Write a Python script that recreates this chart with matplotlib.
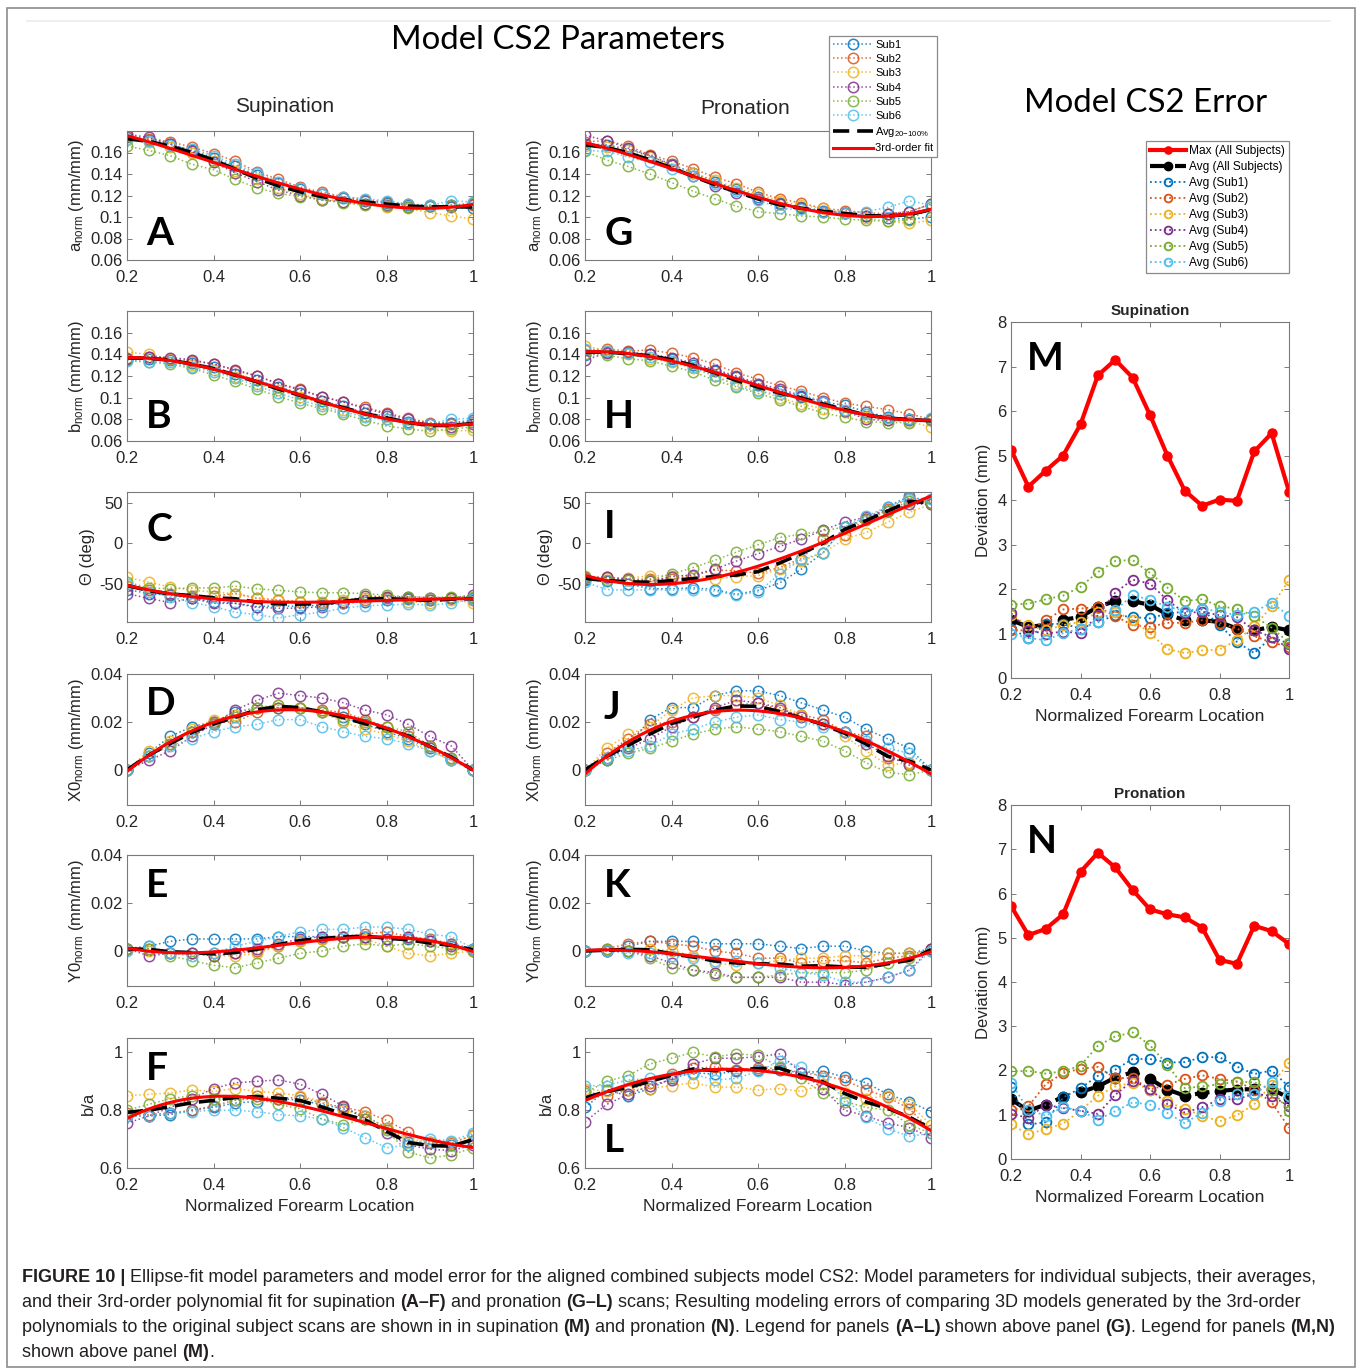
import numpy as np
import matplotlib
matplotlib.use("Agg")
import matplotlib.pyplot as plt
from matplotlib.ticker import FuncFormatter
from matplotlib.lines import Line2D
from matplotlib.patches import Rectangle
from matplotlib import font_manager

W, H = 1360, 1370
plt.rcParams["font.family"] = ["Liberation Sans", "DejaVu Sans"]
plt.rcParams["mathtext.fontset"] = "custom"
plt.rcParams["mathtext.rm"] = "Liberation Sans"
plt.rcParams["mathtext.it"] = "Liberation Sans:italic"
plt.rcParams["mathtext.bf"] = "Liberation Sans:bold"

# normalized forearm location
loc = [0.2, 0.25, 0.3, 0.35, 0.4, 0.45, 0.5, 0.55, 0.6, 0.65, 0.7, 0.75, 0.8, 0.85, 0.9, 0.95, 1.0]
sub_names = ["Sub1", "Sub2", "Sub3", "Sub4", "Sub5", "Sub6"]
sub_colors = ["#0072BD", "#D95319", "#EDB120", "#7E2F8E", "#77AC30", "#4DBEEE"]

# ---- supination parameters (Sub1..Sub6) ----
sup_a = [
    [0.174, 0.172, 0.168, 0.162, 0.155, 0.147, 0.139, 0.132, 0.126, 0.121, 0.118, 0.115, 0.113, 0.111, 0.110, 0.109, 0.108],
    [0.175, 0.173, 0.170, 0.165, 0.159, 0.152, 0.142, 0.135, 0.128, 0.123, 0.119, 0.116, 0.114, 0.112, 0.111, 0.110, 0.111],
    [0.172, 0.170, 0.165, 0.160, 0.152, 0.143, 0.135, 0.127, 0.121, 0.117, 0.114, 0.112, 0.109, 0.108, 0.104, 0.101, 0.098],
    [0.177, 0.174, 0.168, 0.161, 0.151, 0.141, 0.133, 0.125, 0.120, 0.116, 0.114, 0.112, 0.111, 0.109, 0.110, 0.111, 0.112],
    [0.166, 0.162, 0.157, 0.149, 0.144, 0.135, 0.127, 0.122, 0.119, 0.116, 0.113, 0.111, 0.110, 0.109, 0.110, 0.111, 0.113],
    [0.173, 0.171, 0.167, 0.163, 0.157, 0.149, 0.141, 0.133, 0.127, 0.121, 0.119, 0.117, 0.115, 0.112, 0.111, 0.115, 0.114],
]
sup_b = [
    [0.136, 0.136, 0.135, 0.132, 0.128, 0.122, 0.116, 0.110, 0.104, 0.097, 0.092, 0.086, 0.083, 0.078, 0.076, 0.077, 0.079],
    [0.137, 0.138, 0.136, 0.134, 0.131, 0.125, 0.120, 0.113, 0.108, 0.101, 0.096, 0.091, 0.086, 0.081, 0.077, 0.076, 0.078],
    [0.142, 0.140, 0.136, 0.130, 0.126, 0.119, 0.113, 0.107, 0.101, 0.094, 0.089, 0.083, 0.080, 0.076, 0.072, 0.069, 0.070],
    [0.136, 0.138, 0.137, 0.135, 0.131, 0.126, 0.120, 0.113, 0.107, 0.101, 0.096, 0.090, 0.085, 0.080, 0.076, 0.073, 0.076],
    [0.135, 0.133, 0.131, 0.127, 0.121, 0.115, 0.108, 0.101, 0.095, 0.090, 0.085, 0.079, 0.074, 0.071, 0.069, 0.071, 0.073],
    [0.134, 0.133, 0.133, 0.128, 0.124, 0.118, 0.111, 0.104, 0.098, 0.092, 0.087, 0.082, 0.080, 0.077, 0.076, 0.080, 0.081],
]
sup_theta = [
    [-57, -62, -64, -68, -72, -74, -78, -77, -78, -76, -74, -72, -70, -69, -70, -68, -67],
    [-53, -57, -62, -65, -65, -62, -68, -70, -72, -73, -73, -70, -68, -68, -70, -68, -70],
    [-42, -48, -54, -58, -60, -62, -67, -70, -72, -72, -70, -67, -66, -72, -73, -70, -73],
    [-62, -68, -73, -68, -74, -74, -79, -80, -80, -78, -72, -65, -66, -66, -67, -67, -64],
    [-48, -55, -56, -55, -55, -53, -56, -58, -60, -61, -61, -62, -64, -66, -67, -66, -66],
    [-50, -60, -66, -73, -78, -85, -88, -92, -88, -85, -80, -77, -76, -75, -76, -74, -69],
]
sup_x0 = [
    [0, 0.007, 0.014, 0.018, 0.020, 0.024, 0.026, 0.026, 0.026, 0.024, 0.022, 0.019, 0.016, 0.013, 0.009, 0.004, 0],
    [0, 0.006, 0.011, 0.016, 0.020, 0.020, 0.024, 0.026, 0.026, 0.025, 0.024, 0.021, 0.018, 0.014, 0.010, 0.005, 0],
    [0, 0.008, 0.012, 0.017, 0.021, 0.023, 0.026, 0.027, 0.026, 0.024, 0.020, 0.017, 0.015, 0.012, 0.008, 0.004, 0],
    [0, 0.004, 0.008, 0.014, 0.019, 0.025, 0.029, 0.032, 0.031, 0.030, 0.028, 0.025, 0.023, 0.019, 0.014, 0.010, 0],
    [0, 0.006, 0.011, 0.016, 0.019, 0.022, 0.026, 0.027, 0.026, 0.024, 0.021, 0.020, 0.018, 0.016, 0.010, 0.005, 0],
    [0, 0.006, 0.010, 0.013, 0.016, 0.018, 0.019, 0.021, 0.021, 0.018, 0.016, 0.014, 0.013, 0.011, 0.008, 0.004, 0],
]
sup_y0 = [
    [0.001, 0.002, 0.004, 0.005, 0.005, 0.005, 0.005, 0.006, 0.006, 0.006, 0.006, 0.006, 0.005, 0.005, 0.004, 0.003, 0.001],
    [0.001, 0.001, -0.001, -0.001, -0.001, -0.001, 0.000, 0.002, 0.004, 0.005, 0.006, 0.007, 0.008, 0.006, 0.005, 0.003, 0.000],
    [0.001, 0.000, -0.001, -0.001, -0.002, -0.002, -0.001, 0.002, 0.004, 0.005, 0.006, 0.005, 0.002, -0.001, -0.002, -0.001, 0.000],
    [0.001, -0.002, -0.001, -0.001, -0.002, -0.001, 0.001, 0.003, 0.005, 0.006, 0.006, 0.006, 0.005, 0.006, 0.004, 0.002, 0.001],
    [0.001, 0.001, -0.002, -0.004, -0.006, -0.007, -0.005, -0.003, -0.001, 0.000, 0.002, 0.003, 0.002, 0.003, 0.002, 0.001, 0.000],
    [0.000, 0.002, -0.001, -0.002, -0.001, 0.002, 0.004, 0.006, 0.008, 0.009, 0.009, 0.010, 0.010, 0.009, 0.007, 0.006, 0.001],
]
sup_ba = [
    [0.780, 0.780, 0.785, 0.800, 0.810, 0.825, 0.830, 0.840, 0.835, 0.820, 0.805, 0.780, 0.740, 0.690, 0.685, 0.680, 0.695],
    [0.790, 0.785, 0.790, 0.800, 0.815, 0.835, 0.850, 0.840, 0.845, 0.825, 0.810, 0.795, 0.765, 0.725, 0.690, 0.685, 0.715],
    [0.850, 0.855, 0.860, 0.870, 0.865, 0.875, 0.865, 0.860, 0.850, 0.830, 0.800, 0.780, 0.740, 0.700, 0.690, 0.690, 0.710],
    [0.755, 0.780, 0.810, 0.840, 0.875, 0.895, 0.900, 0.905, 0.890, 0.855, 0.815, 0.770, 0.720, 0.680, 0.665, 0.660, 0.680],
    [0.800, 0.820, 0.840, 0.850, 0.840, 0.835, 0.840, 0.820, 0.805, 0.770, 0.750, 0.770, 0.730, 0.655, 0.635, 0.645, 0.670],
    [0.780, 0.780, 0.790, 0.795, 0.800, 0.800, 0.795, 0.785, 0.780, 0.770, 0.740, 0.705, 0.670, 0.680, 0.700, 0.695, 0.720],
]

# ---- pronation parameters (Sub1..Sub6) ----
pro_a = [
    [0.168, 0.167, 0.163, 0.157, 0.149, 0.141, 0.133, 0.126, 0.119, 0.113, 0.109, 0.106, 0.104, 0.101, 0.099, 0.098, 0.100],
    [0.170, 0.171, 0.166, 0.158, 0.152, 0.145, 0.137, 0.131, 0.123, 0.117, 0.113, 0.108, 0.106, 0.104, 0.103, 0.105, 0.112],
    [0.166, 0.165, 0.162, 0.156, 0.148, 0.141, 0.134, 0.127, 0.121, 0.115, 0.111, 0.108, 0.104, 0.099, 0.096, 0.094, 0.097],
    [0.176, 0.171, 0.164, 0.157, 0.148, 0.138, 0.129, 0.122, 0.117, 0.112, 0.108, 0.105, 0.104, 0.101, 0.103, 0.105, 0.112],
    [0.161, 0.153, 0.147, 0.140, 0.132, 0.124, 0.117, 0.110, 0.105, 0.103, 0.101, 0.100, 0.098, 0.097, 0.096, 0.097, 0.109],
    [0.162, 0.161, 0.156, 0.151, 0.145, 0.138, 0.131, 0.124, 0.116, 0.108, 0.107, 0.105, 0.104, 0.105, 0.109, 0.115, 0.111],
]
pro_b = [
    [0.139, 0.142, 0.141, 0.140, 0.136, 0.130, 0.125, 0.119, 0.112, 0.106, 0.101, 0.096, 0.093, 0.087, 0.082, 0.080, 0.080],
    [0.144, 0.145, 0.143, 0.144, 0.141, 0.137, 0.131, 0.123, 0.117, 0.111, 0.106, 0.100, 0.095, 0.092, 0.089, 0.085, 0.080],
    [0.148, 0.143, 0.140, 0.136, 0.133, 0.127, 0.120, 0.113, 0.107, 0.100, 0.094, 0.090, 0.087, 0.082, 0.079, 0.078, 0.073],
    [0.135, 0.141, 0.142, 0.140, 0.137, 0.132, 0.126, 0.120, 0.113, 0.108, 0.102, 0.097, 0.088, 0.080, 0.079, 0.079, 0.079],
    [0.140, 0.139, 0.136, 0.134, 0.129, 0.124, 0.116, 0.110, 0.104, 0.098, 0.092, 0.086, 0.082, 0.078, 0.077, 0.077, 0.079],
    [0.145, 0.143, 0.141, 0.138, 0.134, 0.128, 0.120, 0.111, 0.106, 0.103, 0.103, 0.096, 0.089, 0.085, 0.081, 0.080, 0.081],
]
pro_theta = [
    [-45, -47, -50, -56, -56, -55, -57, -63, -58, -49, -32, -12, 20, 30, 45, 58, 50],
    [-43, -42, -45, -44, -44, -40, -33, -34, -37, -30, -19, 5, 10, 30, 42, 56, 50],
    [-40, -43, -43, -40, -40, -40, -44, -41, -40, -32, -22, -12, 5, 13, 26, 38, 48],
    [-42, -42, -44, -47, -41, -39, -32, -22, -13, -4, 5, 16, 26, 32, 40, 48, 48],
    [-42, -45, -45, -45, -38, -30, -21, -11, -2, 7, 11, 15, 20, 28, 40, 52, 50],
    [-48, -57, -58, -57, -58, -57, -59, -64, -60, -38, -20, -12, 20, 33, 45, 55, 55],
]
pro_x0 = [
    [0, 0.004, 0.010, 0.021, 0.026, 0.026, 0.031, 0.033, 0.033, 0.031, 0.028, 0.025, 0.022, 0.017, 0.013, 0.009, 0],
    [0, 0.007, 0.013, 0.019, 0.020, 0.022, 0.025, 0.027, 0.028, 0.025, 0.023, 0.021, 0.016, 0.014, 0.005, 0.003, 0],
    [0, 0.009, 0.015, 0.018, 0.025, 0.030, 0.031, 0.031, 0.030, 0.027, 0.023, 0.019, 0.014, 0.008, 0.002, 0.003, 0],
    [0, 0.005, 0.009, 0.013, 0.018, 0.022, 0.026, 0.029, 0.028, 0.026, 0.022, 0.019, 0.016, 0.011, 0.006, 0.002, 0],
    [0, 0.004, 0.007, 0.009, 0.012, 0.015, 0.017, 0.018, 0.017, 0.016, 0.014, 0.012, 0.008, 0.003, -0.001, -0.002, 0],
    [0, 0.005, 0.008, 0.010, 0.015, 0.017, 0.020, 0.022, 0.023, 0.021, 0.020, 0.018, 0.016, 0.012, 0.009, 0.007, 0],
]
pro_y0 = [
    [0.000, 0.000, 0.002, 0.004, 0.004, 0.004, 0.003, 0.003, 0.003, 0.002, 0.001, 0.002, 0.002, 0.000, -0.001, -0.001, 0.001],
    [0.000, 0.001, 0.003, 0.004, 0.003, 0.002, 0.000, -0.001, -0.003, -0.003, -0.005, -0.004, -0.004, -0.005, -0.003, -0.002, 0.001],
    [0.000, 0.000, 0.000, 0.001, 0.000, -0.002, -0.005, -0.006, -0.005, -0.004, -0.003, -0.003, -0.002, -0.002, -0.001, -0.001, 0.000],
    [0.000, 0.000, 0.000, -0.002, -0.005, -0.008, -0.009, -0.011, -0.011, -0.011, -0.013, -0.013, -0.014, -0.013, -0.011, -0.008, 0.001],
    [0.000, 0.001, 0.000, -0.003, -0.007, -0.008, -0.010, -0.011, -0.011, -0.010, -0.009, -0.009, -0.009, -0.008, -0.005, -0.003, 0.000],
    [0.000, 0.000, -0.001, -0.001, -0.002, -0.003, -0.004, -0.004, -0.005, -0.007, -0.009, -0.010, -0.013, -0.013, -0.011, -0.008, 0.000],
]
pro_ba = [
    [0.810, 0.870, 0.850, 0.875, 0.910, 0.930, 0.925, 0.935, 0.940, 0.940, 0.930, 0.935, 0.915, 0.895, 0.855, 0.830, 0.795],
    [0.865, 0.850, 0.870, 0.895, 0.925, 0.945, 0.950, 0.940, 0.945, 0.945, 0.930, 0.920, 0.905, 0.870, 0.845, 0.805, 0.730],
    [0.875, 0.865, 0.870, 0.875, 0.885, 0.895, 0.880, 0.880, 0.870, 0.875, 0.865, 0.890, 0.860, 0.840, 0.850, 0.820, 0.750],
    [0.760, 0.820, 0.855, 0.885, 0.905, 0.960, 0.980, 0.980, 0.985, 0.995, 0.930, 0.875, 0.800, 0.780, 0.755, 0.740, 0.705],
    [0.860, 0.900, 0.920, 0.960, 0.980, 1.000, 0.985, 0.995, 0.990, 0.950, 0.910, 0.860, 0.830, 0.810, 0.800, 0.750, 0.720],
    [0.885, 0.885, 0.905, 0.910, 0.920, 0.925, 0.905, 0.910, 0.935, 0.970, 0.950, 0.910, 0.840, 0.775, 0.735, 0.710, 0.720],
]

# ---- model error (mm) ----
sup_err_max = [5.13, 4.30, 4.66, 5.00, 5.70, 6.80, 7.15, 6.75, 5.91, 5.00, 4.21, 3.87, 4.01, 3.98, 5.09, 5.50, 4.19]
sup_err_avg = [1.30, 1.15, 1.19, 1.31, 1.37, 1.60, 1.73, 1.73, 1.64, 1.43, 1.30, 1.30, 1.26, 1.11, 1.07, 1.15, 1.07]
sup_err_sub = [
    [1.11, 0.90, 1.21, 1.22, 1.11, 1.26, 1.41, 1.37, 1.34, 1.45, 1.49, 1.54, 1.19, 0.81, 0.56, 0.92, 0.77],
    [1.07, 1.07, 1.30, 1.54, 1.56, 1.60, 1.39, 1.19, 1.15, 1.24, 1.24, 1.30, 1.24, 1.11, 0.94, 0.80, 0.70],
    [1.41, 1.19, 1.07, 1.19, 1.26, 1.49, 1.49, 1.30, 1.01, 0.65, 0.56, 0.62, 0.64, 0.85, 1.16, 1.61, 2.20],
    [1.46, 1.06, 1.00, 1.04, 1.01, 1.41, 1.92, 2.21, 2.12, 1.75, 1.46, 1.49, 1.41, 1.37, 1.07, 0.92, 0.66],
    [1.65, 1.67, 1.77, 1.85, 2.05, 2.38, 2.63, 2.65, 2.36, 2.03, 1.73, 1.77, 1.61, 1.56, 1.39, 1.13, 0.79],
    [1.00, 0.90, 0.85, 1.01, 1.11, 1.26, 1.52, 1.86, 1.76, 1.60, 1.51, 1.56, 1.49, 1.41, 1.49, 1.69, 1.40],
]
pro_err_max = [5.72, 5.06, 5.20, 5.53, 6.49, 6.92, 6.59, 6.08, 5.64, 5.53, 5.46, 5.23, 4.50, 4.41, 5.27, 5.15, 4.86]
pro_err_avg = [1.35, 1.09, 1.23, 1.40, 1.51, 1.64, 1.84, 1.96, 1.81, 1.57, 1.43, 1.49, 1.54, 1.57, 1.58, 1.58, 1.38]
pro_err_sub = [
    [1.63, 0.78, 0.83, 1.39, 1.60, 1.88, 2.02, 2.26, 2.26, 2.18, 2.19, 2.30, 2.30, 2.09, 1.92, 2.00, 1.63],
    [1.11, 1.19, 1.69, 1.94, 2.04, 2.08, 1.83, 1.83, 1.57, 1.68, 1.81, 1.89, 1.81, 1.75, 1.57, 1.28, 0.71],
    [0.78, 0.56, 0.68, 0.80, 1.09, 1.43, 1.64, 1.72, 1.57, 1.30, 1.13, 0.98, 0.85, 0.99, 1.24, 1.68, 2.18],
    [1.02, 0.93, 1.23, 1.15, 1.09, 1.02, 1.45, 1.77, 1.58, 1.24, 1.05, 1.17, 1.35, 1.35, 1.47, 1.43, 1.19],
    [1.98, 1.99, 1.93, 1.98, 2.11, 2.56, 2.77, 2.86, 2.57, 2.13, 1.60, 1.64, 1.69, 1.75, 1.73, 1.57, 1.08],
    [1.72, 1.11, 0.98, 1.17, 1.09, 0.89, 1.08, 1.28, 1.23, 1.04, 0.81, 1.05, 1.32, 1.47, 1.47, 1.73, 1.43],
]

xticks = [0.2, 0.4, 0.6, 0.8, 1.0]
fmt = FuncFormatter(lambda v, p: f"{v:g}")
AX_COL = "#7a7a7a"
TXT_COL = "#262626"
LETTER_FONT = ["Lato", "DejaVu Sans"]


def px_rect(x0, y0, x1, y1):
    return [x0 / W, 1 - y1 / H, (x1 - x0) / W, (y1 - y0) / H]


def style_axes(ax):
    for s in ax.spines.values():
        s.set_color(AX_COL)
        s.set_linewidth(0.8)
    ax.tick_params(direction="in", top=True, right=True, length=3.5, width=0.7,
                   color=AX_COL, labelcolor=TXT_COL, labelsize=12)
    ax.tick_params(axis="x", pad=7.5)
    ax.tick_params(axis="y", pad=3)
    ax.set_xlim(0.2, 1.0)
    ax.set_xticks(xticks)
    ax.xaxis.set_major_formatter(fmt)
    ax.yaxis.set_major_formatter(fmt)


fig = plt.figure(figsize=(W / 100, H / 100), dpi=100)

rows = [(131, 260), (311, 441), (492, 622), (674, 805), (855, 986), (1038, 1168)]
ylabels = [r"a$_{\mathrm{norm}}$ (mm/mm)", r"b$_{\mathrm{norm}}$ (mm/mm)", "\u0398 (deg)",
           r"X0$_{\mathrm{norm}}$ (mm/mm)", r"Y0$_{\mathrm{norm}}$ (mm/mm)", "b/a"]
ylims = [(0.06, 0.18), (0.06, 0.18), (-97, 63), (-0.0146, 0.04), (-0.0146, 0.04), (0.6, 1.05)]
yticks = [[0.06, 0.08, 0.1, 0.12, 0.14, 0.16], [0.06, 0.08, 0.1, 0.12, 0.14, 0.16],
          [-50, 0, 50], [0, 0.02, 0.04], [0, 0.02, 0.04], [0.6, 0.8, 1.0]]
columns = [
    (127, 473, [sup_a, sup_b, sup_theta, sup_x0, sup_y0, sup_ba],
     ["A", "B", "C", "D", "E", "F"], [0.12, 0.10, 0.62, 0.69, 0.68, 0.68]),
    (585, 931, [pro_a, pro_b, pro_theta, pro_x0, pro_y0, pro_ba],
     ["G", "H", "I", "J", "K", "L"], [0.12, 0.10, 0.65, 0.66, 0.68, 0.12]),
]

legend_handles = None
for x0, x1, panels, letters, ly in columns:
    for i, subs in enumerate(panels):
        y0, y1 = rows[i]
        ax = fig.add_axes(px_rect(x0, y0, x1, y1))
        hs = []
        for s, c in zip(subs, sub_colors):
            h, = ax.plot(loc, s, ":", color=c, marker="o", mfc="none", mec=c, ms=7.5,
                         mew=1.1, lw=1.1, alpha=0.85)
            hs.append(h)
        avg = np.mean(np.array(subs, dtype=float), axis=0)
        ha, = ax.plot(loc, avg, color="black", lw=2.6, dashes=(4.5, 2.2))
        coef = np.polyfit(loc, avg, 3)
        xf = np.linspace(0.2, 1.0, 200)
        hf, = ax.plot(xf, np.polyval(coef, xf), color="red", lw=2.2)
        legend_handles = hs + [ha, hf]
        style_axes(ax)
        ax.set_ylim(*ylims[i])
        ax.set_yticks(yticks[i])
        ax.set_ylabel(ylabels[i], fontsize=12, color=TXT_COL, labelpad=3)
        ax.text(0.055, ly[i], letters[i], transform=ax.transAxes, fontsize=28,
                fontweight="bold", family=LETTER_FONT, va="baseline", ha="left")
        if i == 5:
            ax.set_xlabel("Normalized Forearm Location", fontsize=12.5, color=TXT_COL, labelpad=4)

# error panels
err_handles = None
for (y0, y1), title, mx, av, subs, letter in [
        ((322, 678), "Supination", sup_err_max, sup_err_avg, sup_err_sub, "M"),
        ((805, 1159), "Pronation", pro_err_max, pro_err_avg, pro_err_sub, "N")]:
    ax = fig.add_axes(px_rect(1011, y0, 1289, y1))
    hmax, = ax.plot(loc, mx, "-", color="red", lw=3, marker="o", ms=6.5, mfc="red", mec="red")
    havg, = ax.plot(loc, av, color="black", lw=3, dashes=(3.5, 2.5), marker="o", ms=7.5,
                    mfc="black", mec="black")
    hs = []
    for s, c in zip(subs, sub_colors):
        h, = ax.plot(loc, s, ":", color=c, marker="o", mfc="none", mec=c, ms=7, mew=1.3, lw=1.3)
        hs.append(h)
    err_handles = [hmax, havg] + hs
    style_axes(ax)
    ax.set_ylim(0, 8)
    ax.set_yticks(range(0, 9))
    ax.set_title(title, fontsize=11, fontweight="bold", color=TXT_COL, pad=5)
    ax.set_ylabel("Deviation (mm)", fontsize=12, color=TXT_COL, labelpad=5)
    ax.set_xlabel("Normalized Forearm Location", fontsize=12.5, color=TXT_COL, labelpad=4)
    ax.text(0.058, 0.865, letter, transform=ax.transAxes, fontsize=28, fontweight="bold",
            family=LETTER_FONT, va="baseline", ha="left")

# legends
leg1 = fig.legend(legend_handles, sub_names + [r"Avg$_{\mathrm{20}\mathrm{-}\mathrm{100\%}}$", "3rd-order fit"],
                  loc="upper left", bbox_to_anchor=(829 / W, 1 - 36 / H), fontsize=8,
                  handlelength=3.6, handletextpad=0.2, labelspacing=0.38, borderpad=0.35,
                  borderaxespad=0, fancybox=False, framealpha=1, edgecolor="#8a8a8a")
leg1.get_frame().set_linewidth(0.9)
err_labels = ["Max (All Subjects)", "Avg (All Subjects)"] + [f"Avg ({n})" for n in sub_names]
leg2 = fig.legend(err_handles, err_labels, loc="upper left", bbox_to_anchor=(1146 / W, 1 - 141 / H),
                  fontsize=8.6, handlelength=3.0, handletextpad=0.25, labelspacing=0.33, borderpad=0.35,
                  borderaxespad=0, fancybox=False, framealpha=1, edgecolor="#8a8a8a",
                  markerscale=0.8)
leg2.get_frame().set_linewidth(0.9)

# headings
TITLE_FONT = ["Lato", "DejaVu Sans"]
fig.text(558 / W, 1 - 40 / H, "Model CS2 Parameters", fontsize=23.8, family=TITLE_FONT,
         ha="center", va="center")
fig.text(1146 / W, 1 - 103 / H, "Model CS2 Error", fontsize=23.8, family=TITLE_FONT,
         ha="center", va="center")
fig.text(285 / W, 1 - 107 / H, "Supination", fontsize=15, ha="center", va="center", color=TXT_COL)
fig.text(745 / W, 1 - 108 / H, "Pronation", fontsize=15, ha="center", va="center", color=TXT_COL)

# outer frame and separator
fig.patches.append(Rectangle((7 / W, 1 - 1367 / H), (1355 - 7) / W, (1367 - 8) / H,
                             transform=fig.transFigure, fill=False, edgecolor="#8c8c8c", lw=1.2))
fig.add_artist(Line2D([27 / W, 1330 / W], [1 - 21 / H, 1 - 21 / H], color="#ececec", lw=1.2))

# caption with mixed bold runs
names = {f.name for f in font_manager.fontManager.ttflist}
CAP_FONT = "Liberation Sans Narrow" if "Liberation Sans Narrow" in names else "Liberation Sans"
caption = [
    [("FIGURE 10 |", True), (" Ellipse-fit model parameters and model error for the aligned combined "
                             "subjects model CS2: Model parameters for individual subjects, their averages,", False)],
    [("and their 3rd-order polynomial fit for supination ", False), ("(A\u2013F)", True),
     (" and pronation ", False), ("(G\u2013L)", True),
     (" scans; Resulting modeling errors of comparing 3D models generated by the 3rd-order", False)],
    [("polynomials to the original subject scans are shown in in supination ", False), ("(M)", True),
     (" and pronation ", False), ("(N)", True), (". Legend for panels ", False), ("(A\u2013L)", True),
     (" shown above panel ", False), ("(G)", True), (". Legend for panels ", False), ("(M,N)", True)],
    [("shown above panel ", False), ("(M)", True), (".", False)],
]
renderer = fig.canvas.get_renderer()


def text_w(s, size, bold):
    def ext(t):
        tt = fig.text(0, 0, t, fontsize=size, family=CAP_FONT, fontweight="bold" if bold else "normal")
        w = tt.get_window_extent(renderer).width
        tt.remove()
        return w
    return ext("x" + s + "x") - ext("xx")


def line_w(parts, size):
    return sum(text_w(t, size, b) for t, b in parts)


cap_size = 10 * 1298 / line_w(caption[0], 10)
for k, parts in enumerate(caption):
    xp = 22.0
    yp = 1282 + k * 25
    for t, b in parts:
        lead = len(t) - len(t.lstrip(" "))
        core = t.strip(" ")
        trail = len(t) - len(t.rstrip(" ")) if core else 0
        xp += text_w(" " * lead, cap_size, b) if lead else 0
        fig.text(xp / W, 1 - yp / H, core, fontsize=cap_size, family=CAP_FONT,
                 fontweight="bold" if b else "normal", ha="left", va="baseline", color="#231f20")
        xp += text_w(core, cap_size, b)
        xp += text_w(" " * trail, cap_size, b) if trail else 0

fig.savefig("out.png", dpi=100)
